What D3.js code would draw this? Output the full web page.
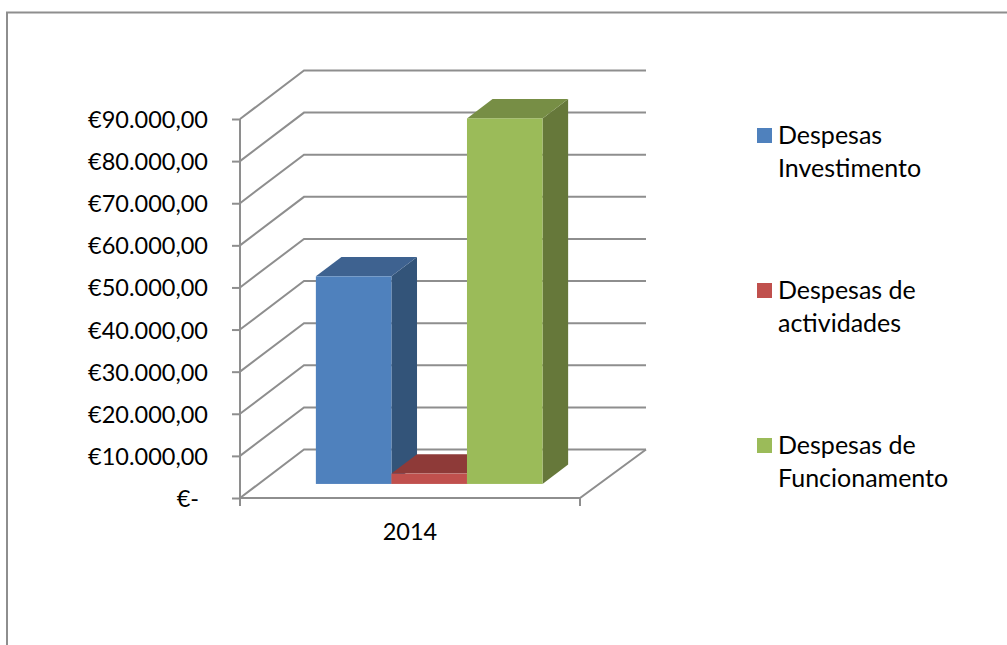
<!DOCTYPE html>
<html>
<head>
<meta charset="utf-8">
<script src="https://cdn.jsdelivr.net/npm/d3@7"></script>
<style>
  html, body { margin: 0; padding: 0; background: #fff; overflow: hidden; }
  text { font-family: Lato, "Open Sans", sans-serif; fill: #000; }
  .domain, .tick line { stroke: #8e8e8e; stroke-width: 2; }
</style>
</head>
<body>
<div id="chart"></div>
<script>
var categories = ["2014"];
var seriesNames = ["Despesas Investimento", "Despesas de actividades", "Despesas de Funcionamento"];
var seriesValues = [49300, 2450, 86800];
var yTicks = [0, 10000, 20000, 30000, 40000, 50000, 60000, 70000, 80000, 90000];
var legendLines = [["Despesas", "Investimento"], ["Despesas de", "actividades"], ["Despesas de", "Funcionamento"]];
var frontColors = ["#4f81bd", "#c0504d", "#9bbb59"];
var sideColors = ["#335479", "#8e3a38", "#66783a"];
var topColors = ["#3e6290", "#8e3a38", "#778e45"];

function init() {
    var w = 1007;
    var h = 645;
    var gray = "#8e8e8e";

    // the fake 3d box: how far the back wall sits from the front axes
    var wallDx = 64;
    var wallDy = -48.5;
    var wallRight = 646;

    var svg = d3.select("#chart")
                .append("svg")
                .attr("width", w)
                .attr("height", h)
                .style("display", "block");

    var yScale = d3.scaleLinear()
                .domain([0, 90000])
                .range([498, 119]);

    var xCat = d3.scaleBand()
                .domain(categories)
                .range([240, 580]);

    var xBar = d3.scaleBand()
                .domain(seriesNames)
                .range(xCat.range())
                .paddingInner(0)
                .paddingOuter(0.75);

    // outer frame, runs off the right and bottom of the picture
    svg.append("path")
        .attr("d", d3.line()([[7, h + 5], [7, 12.5], [w + 5, 12.5]]))
        .attr("fill", "none")
        .attr("stroke", gray)
        .attr("stroke-width", 2);

    // gridlines on the wall and on the side
    var grid = svg.append("g");
    yTicks.forEach(function(t) {
        var y = yScale(t);
        var pts = [[240, y], [240 + wallDx, y + wallDy], [wallRight, y + wallDy]];
        grid.append("path")
            .attr("d", d3.line()(pts))
            .attr("fill", "none")
            .attr("stroke", gray)
            .attr("stroke-width", 2);
    });

    // floor edges
    grid.append("path")
        .attr("d", d3.line()([[240, yScale(0)], [580, yScale(0)], [wallRight, yScale(0) + wallDy]]))
        .attr("fill", "none")
        .attr("stroke", gray)
        .attr("stroke-width", 2);

    // axes
    var yAxis = d3.axisLeft(yScale)
                .tickValues(yTicks)
                .tickSize(8)
                .tickPadding(24)
                .tickFormat(function(d) {
                    if (d === 0) return "€-";
                    return "€" + d3.format(",")(d).replace(/,/g, ".") + ",00";
                });

    var yG = svg.append("g")
        .attr("transform", "translate(240,0)")
        .call(yAxis);
    yG.select(".domain").attr("d", "M0," + yScale(90000) + "V" + yScale(0));
    yG.selectAll("text").style("font-size", "23.5px").attr("dy", "0.36em");
    yG.selectAll(".tick").filter(function(d) { return d === 0; }).select("text").attr("dx", -9);

    var xAxis = d3.axisBottom(xCat).tickSize(0).tickPadding(25);
    var xG = svg.append("g")
        .attr("transform", "translate(0," + yScale(0) + ")")
        .call(xAxis);
    xG.select(".domain").attr("d", "M240,8V0H580V8");
    xG.selectAll("text").style("font-size", "23.5px");

    // bars: front face sits 0.29 back on the floor, and they are 0.4 deep
    var barStart = 0.29;
    var barDepth = 0.4;
    var offX = wallDx * 0.3;
    var offY = wallDy * barStart;
    var dX = wallDx * barDepth;
    var dY = wallDy * barDepth;
    var bw = xBar.bandwidth();

    var bars = svg.selectAll(".bar")
        .data(seriesValues)
        .enter()
        .append("g")
        .attr("class", "bar");

    function baseY() { return yScale(0) + offY; }
    function topY(d) { return baseY() - (yScale(0) - yScale(d)); }
    function leftX(i) { return xBar(seriesNames[i]) + offX; }

    bars.append("path") // side face
        .attr("d", function(d, i) {
            var x = leftX(i) + bw;
            return d3.line()([[x, baseY()], [x + dX, baseY() + dY], [x + dX, topY(d) + dY], [x, topY(d)]]) + "Z";
        })
        .attr("fill", function(d, i) { return sideColors[i]; });

    bars.append("path") // top face
        .attr("d", function(d, i) {
            var x = leftX(i);
            return d3.line()([[x, topY(d)], [x + dX, topY(d) + dY], [x + bw + dX, topY(d) + dY], [x + bw, topY(d)]]) + "Z";
        })
        .attr("fill", function(d, i) { return topColors[i]; });

    bars.append("rect") // front face
        .attr("x", function(d, i) { return leftX(i); })
        .attr("y", function(d) { return topY(d); })
        .attr("width", bw)
        .attr("height", function(d) { return baseY() - topY(d); })
        .attr("fill", function(d, i) { return frontColors[i]; });

    // legend
    var legendY = d3.scalePoint()
                .domain(seriesNames)
                .range([135.5, 445.5]);

    var legend = svg.selectAll(".legendItem")
        .data(seriesNames)
        .enter()
        .append("g")
        .attr("class", "legendItem")
        .attr("transform", function(d) { return "translate(757," + legendY(d) + ")"; });

    legend.append("rect")
        .attr("y", -7.5)
        .attr("width", 15)
        .attr("height", 15)
        .attr("fill", function(d, i) { return frontColors[i]; });

    legend.each(function(d, i) {
        var t = d3.select(this);
        legendLines[i].forEach(function(line, j) {
            t.append("text")
                .attr("x", 21)
                .attr("y", 8.5 + j * 32.5)
                .style("font-size", "25px")
                .text(line);
        });
    });
}
window.onload = init;
</script>
</body>
</html>
